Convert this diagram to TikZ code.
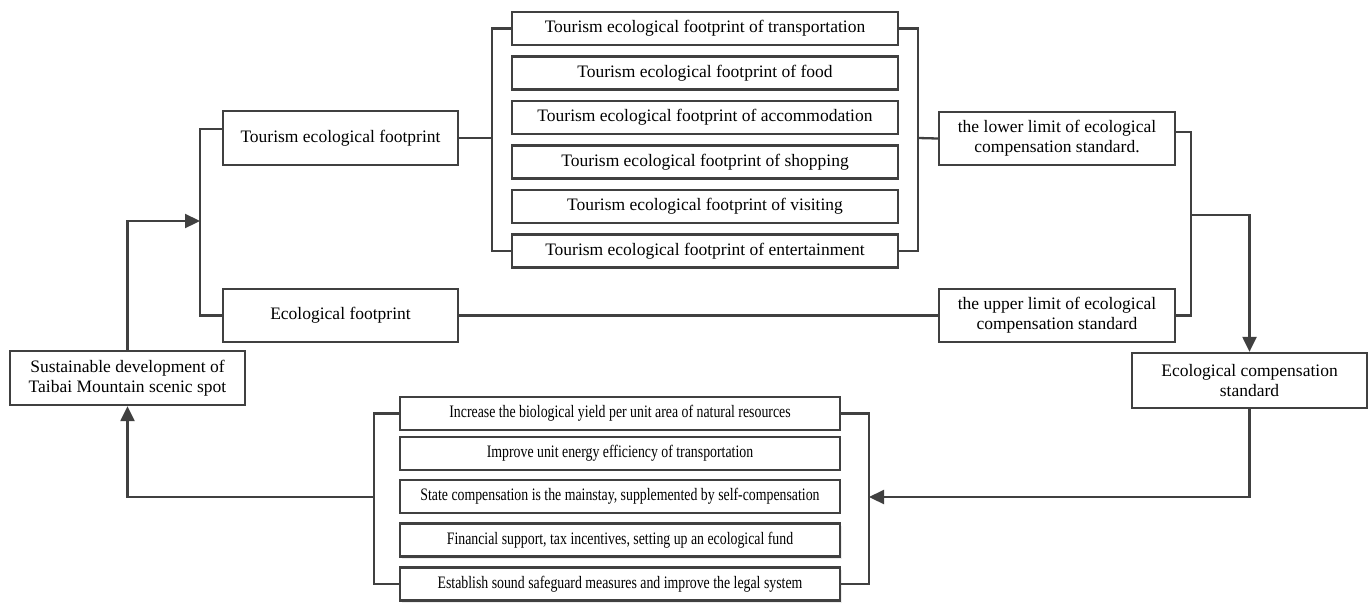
\documentclass[tikz,border=0pt]{standalone}
\usepackage{fontspec}
\setmainfont{Liberation Serif}
\newfontfamily\narrowfont[FakeStretch=0.79]{Liberation Serif}
\usepackage{tikz}
\usetikzlibrary{arrows.meta,shadows}
\definecolor{linegray}{HTML}{404040}
\tikzstyle{fpbox} = [draw=linegray, fill=white, line width=2.3pt,
rectangle, inner sep=2pt, align=center, font=\fontsize{17.5}{20}\selectfont]
\tikzstyle{measbox} = [fpbox, minimum width=440pt, minimum height=33pt,
font=\narrowfont\fontsize{17.5}{20}\selectfont]
\tikzstyle{wayline} = [draw=linegray, line width=2.3pt]
\tikzstyle{wayarrow} = [wayline, -{Triangle[length=15pt,width=14pt]}]

\begin{document}
\begin{tikzpicture}[x=1pt, y=-1pt]
		\useasboundingbox (0,0) rectangle (1370,603);
		% left side
		\node [fpbox, minimum width=235pt, minimum height=54pt] (sust) at (127.5,378)
			{Sustainable development of\\Taibai Mountain scenic spot};
		\node [fpbox, minimum width=235pt, minimum height=54pt] (tef) at (340.5,138)
			{Tourism ecological footprint};
		\node [fpbox, minimum width=235pt, minimum height=53pt] (ef) at (340.5,315.5)
			{Ecological footprint};
		% footprint items
		\foreach \name/\ypos/\txt in {t1/28.5/transportation, t2/73/food,
			t3/117.5/accommodation, t4/162/shopping, t5/206.5/visiting,
			t6/251/entertainment}
			\node [fpbox, minimum width=386pt, minimum height=33pt] (\name) at (705,\ypos)
				{Tourism ecological footprint of \txt};
		% limits
		\node [fpbox, minimum width=236pt, minimum height=53pt] (low) at (1057,138.5)
			{the lower limit of ecological\\compensation standard.};
		\node [fpbox, minimum width=236pt, minimum height=53pt] (up) at (1057,315.5)
			{the upper limit of ecological\\compensation standard};
		\node [fpbox, minimum width=235pt, minimum height=55pt] (ecs) at (1249.5,380.5)
			{Ecological compensation\\standard};
		% measures
		\node [measbox] (b1) at (620,413.5)
			{Increase the biological yield per unit area of natural resources};
		\node [measbox] (b2) at (620,453.5)
			{Improve unit energy efficiency of transportation};
		\node [measbox] (b3) at (620,496.5)
			{State compensation is the mainstay, supplemented by self-compensation};
		\node [measbox, drop shadow={opacity=0.15, shadow xshift=2pt, shadow yshift=-2pt}] (b4) at (620,540)
			{Financial support, tax incentives, setting up an ecological fund};
		\node [measbox, drop shadow={opacity=0.15, shadow xshift=2pt, shadow yshift=-2pt}] (b5) at (620,584)
			{Establish sound safeguard measures and improve the legal system};
		% junctions
		\coordinate (jl) at (200,221);
		\coordinate (jm) at (492,138);
		\coordinate (jr) at (918,138);
		\coordinate (jc) at (1191,215);
		\coordinate (jb) at (869,497);
		\coordinate (ja) at (374,497);
		% connectors
		\draw [wayarrow] (sust.north) |- (jl);
		\draw [wayline] ([yshift=9pt]tef.west) -| (jl) |- (ef.west);
		\draw [wayline] (tef.east) -- (jm);
		\draw [wayline] (t1.west) -| (jm) |- (t6.west);
		\draw [wayline] (t1.east) -| (jr) |- (t6.east);
		\draw [wayline] (jr) -- (low.west);
		\draw [wayline] (ef.east) -- (up.west);
		\draw [wayline] ([yshift=6.5pt]low.east) -| (jc) |- (up.east);
		\draw [wayarrow] (jc) -| (ecs.north);
		\draw [wayarrow] (ecs.south) |- (jb);
		\draw [wayline] (b1.east) -| (jb) |- (b5.east);
		\draw [wayline] (b1.west) -| (ja) |- (b5.west);
		\draw [wayarrow] (ja) -| (sust.south);
		%\node at (685,300) {};
\end{tikzpicture}
\end{document}
